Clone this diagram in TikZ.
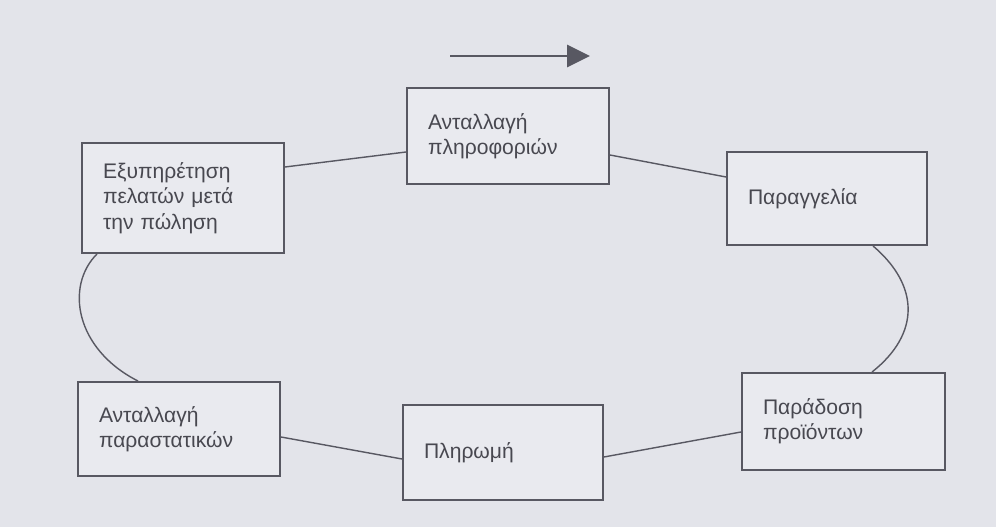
\documentclass[tikz,border=0pt]{standalone}
\usepackage{fontspec}
\setmainfont{Liberation Sans}
\usepackage{xcolor}
\usepackage{tikz}
\usetikzlibrary{arrows.meta, calc}
\definecolor{pagegray}{RGB}{227,228,234}
\definecolor{boxfill}{RGB}{233,234,239}
\definecolor{linegray}{RGB}{88,88,98}
\definecolor{textgray}{RGB}{72,72,80}
\tikzset{
  stage/.style={rectangle, draw=linegray, fill=boxfill, line width=1.1pt,
    inner xsep=0.42cm, inner ysep=0pt, align=left, text=textgray,
    font=\fontsize{12}{14.5}\selectfont},
  link/.style={line width=0.8pt, color=linegray},
  flow/.style={-{Triangle[length=0.46cm, width=0.44cm]}, line width=1.6pt, color=linegray}
}

\begin{document}
\begin{tikzpicture}
\fill[pagegray] (0,0) rectangle (19.92,10.54);
\useasboundingbox (0,0) rectangle (19.92,10.54);

%--- direction arrow ---
\coordinate (dirA) at (9.0, 9.42);
\coordinate (dirB) at (11.8, 9.42);
\draw[flow] (dirA) -- (dirB);

%--- stages of the cycle ---
\node[stage, text width=3.20cm, minimum height=1.92cm] (info) at (10.16, 7.82) {Ανταλλαγή\\πληροφοριών};
\node[stage, text width=3.16cm, minimum height=1.86cm] (order) at (16.54, 6.57) {Παραγγελία};
\node[stage, text width=3.22cm, minimum height=1.94cm] (delivery) at (16.87, 2.11) {Παράδοση\\προϊόντων};
\node[stage, text width=3.16cm, minimum height=1.90cm] (payment) at (10.06, 1.49) {Πληρωμή};
\node[stage, text width=3.20cm, minimum height=1.88cm] (docs) at (3.58, 1.96) {Ανταλλαγή\\παραστατικών};
\node[stage, text width=3.20cm, minimum height=2.20cm] (support) at (3.66, 6.58) {Εξυπηρέτηση\\πελατών μετά\\την πώληση};

%--- links between stages ---
\draw[link] ([yshift=0.62cm]support.east) -- ([yshift=-0.32cm]info.west);
\draw[link] ([yshift=-0.38cm]info.east) -- ([yshift=0.43cm]order.west);
\draw[link] ([xshift=0.92cm]order.south) .. controls +(0.94,-0.8) and +(0.96,0.76) .. ([xshift=0.57cm]delivery.north);
\draw[link] ([yshift=-0.21cm]delivery.west) -- ([yshift=-0.09cm]payment.east);
\draw[link] ([yshift=-0.13cm]payment.west) -- ([yshift=-0.16cm]docs.east);
\draw[link] ([xshift=-0.82cm]docs.north) .. controls +(-1.26,0.64) and +(-0.64,-0.64) .. ([xshift=-1.72cm]support.south);
\end{tikzpicture}
\end{document}
